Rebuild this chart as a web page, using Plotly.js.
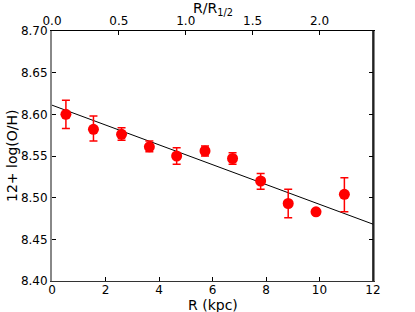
<!DOCTYPE html>
<html>
<head>
<meta charset="utf-8">
<script src="https://cdn.plot.ly/plotly-3.0.1.min.js"></script>
<style>html,body{margin:0;padding:0;background:#fff}#chart{width:415px;height:312px}</style>
</head>
<body>
<div id="chart"></div>
<script>
// Data
var radiusKpc = [0.52, 1.55, 2.6, 3.64, 4.66, 5.72, 6.75, 7.80, 8.83, 9.87, 10.93];
var oh12 = [8.600, 8.582, 8.576, 8.561, 8.550, 8.556, 8.547, 8.520, 8.493, 8.483, 8.504];
var ohErrPlus = [0.017, 0.016, 0.008, 0.007, 0.010, 0.006, 0.007, 0.009, 0.017, 0.003, 0.020];
var ohErrMinus = [0.017, 0.014, 0.007, 0.006, 0.010, 0.006, 0.007, 0.010, 0.017, 0.003, 0.021];
var fitRange = [0, 12];
var fitIntercept = 8.611;
var fitSlope = -0.0119;
var rHalfKpc = 5.0;
var yTicks = [8.40, 8.45, 8.50, 8.55, 8.60, 8.65, 8.70];
var xTicks = [0, 2, 4, 6, 8, 10, 12];
var topTicks = [0.0, 0.5, 1.0, 1.5, 2.0];
var xTitle = 'R (kpc)';
var yTitle = '12+ log(O/H)';
var topTitle = 'R/R<sub>1/2</sub>';

var fitY = fitRange.map(function(r){ return fitIntercept + fitSlope * r; });

var font = 'DejaVu Sans, sans-serif';
var traces = [
  {
    x: fitRange, y: fitY, type: 'scatter', mode: 'lines',
    line: {color: '#000', width: 1}, hoverinfo: 'skip', showlegend: false
  },
  {
    x: radiusKpc, y: oh12, type: 'scatter', mode: 'markers',
    marker: {color: '#ff0000', size: 11},
    error_y: {type: 'data', symmetric: false, array: ohErrPlus, arrayminus: ohErrMinus,
              color: '#ff0000', thickness: 1.5, width: 4},
    showlegend: false
  },
  {
    x: radiusKpc.map(function(r){ return r / rHalfKpc; }), y: oh12,
    xaxis: 'x2', type: 'scatter', mode: 'markers',
    marker: {opacity: 0}, hoverinfo: 'skip', showlegend: false
  }
];

var layout = {
  width: 415, height: 312,
  margin: {l: 52, r: 42, t: 31, b: 31},
  paper_bgcolor: '#fff', plot_bgcolor: '#fff',
  font: {family: font, size: 12, color: '#000'},
  showlegend: false,
  xaxis: {
    range: [0, 12], tickvals: xTicks, ticktext: xTicks.map(String),
    ticks: 'inside', ticklen: 4, tickcolor: '#000', tickwidth: 1,
    showline: true, linecolor: '#333', linewidth: 1.2, mirror: false,
    showgrid: false, zeroline: false, ticklabelstandoff: -3,
    tickfont: {family: font, size: 12}
  },
  xaxis2: {
    overlaying: 'x', side: 'top', range: [0, 12 / rHalfKpc],
    tickvals: topTicks, ticktext: topTicks.map(function(v){ return v.toFixed(1); }),
    ticks: 'inside', ticklen: 4, tickcolor: '#000', tickwidth: 1,
    showline: true, linecolor: '#000', linewidth: 1.5,
    showgrid: false, zeroline: false,
    tickfont: {family: font, size: 12}
  },
  yaxis: {
    range: [8.40, 8.70], tickvals: yTicks, ticktext: yTicks.map(function(v){ return v.toFixed(2); }),
    ticks: 'inside', ticklen: 4, tickcolor: '#000', tickwidth: 1,
    showline: true, linecolor: '#888', linewidth: 2, mirror: 'ticks',
    showgrid: false, zeroline: false,
    tickfont: {family: font, size: 12}
  },
  shapes: [
    {type: 'line', xref: 'paper', yref: 'paper', x0: 1, x1: 1, y0: 0, y1: 1,
     line: {color: '#000', width: 1.5}}
  ],
  annotations: [
    {text: xTitle, xref: 'paper', yref: 'paper', x: 0.5, y: 0, xanchor: 'center', yanchor: 'middle',
     yshift: -24, showarrow: false, font: {family: font, size: 14}},
    {text: topTitle, xref: 'paper', yref: 'paper', x: 0.5, y: 1, xanchor: 'center', yanchor: 'middle',
     yshift: 22, showarrow: false, font: {family: font, size: 14}},
    {text: yTitle, xref: 'paper', yref: 'paper', x: 0, y: 0.5, xanchor: 'center', yanchor: 'middle',
     xshift: -40, textangle: -90, showarrow: false, font: {family: font, size: 14}}
  ]
};

Plotly.newPlot('chart', traces, layout, {displayModeBar: false, staticPlot: true});
</script>
</body>
</html>
